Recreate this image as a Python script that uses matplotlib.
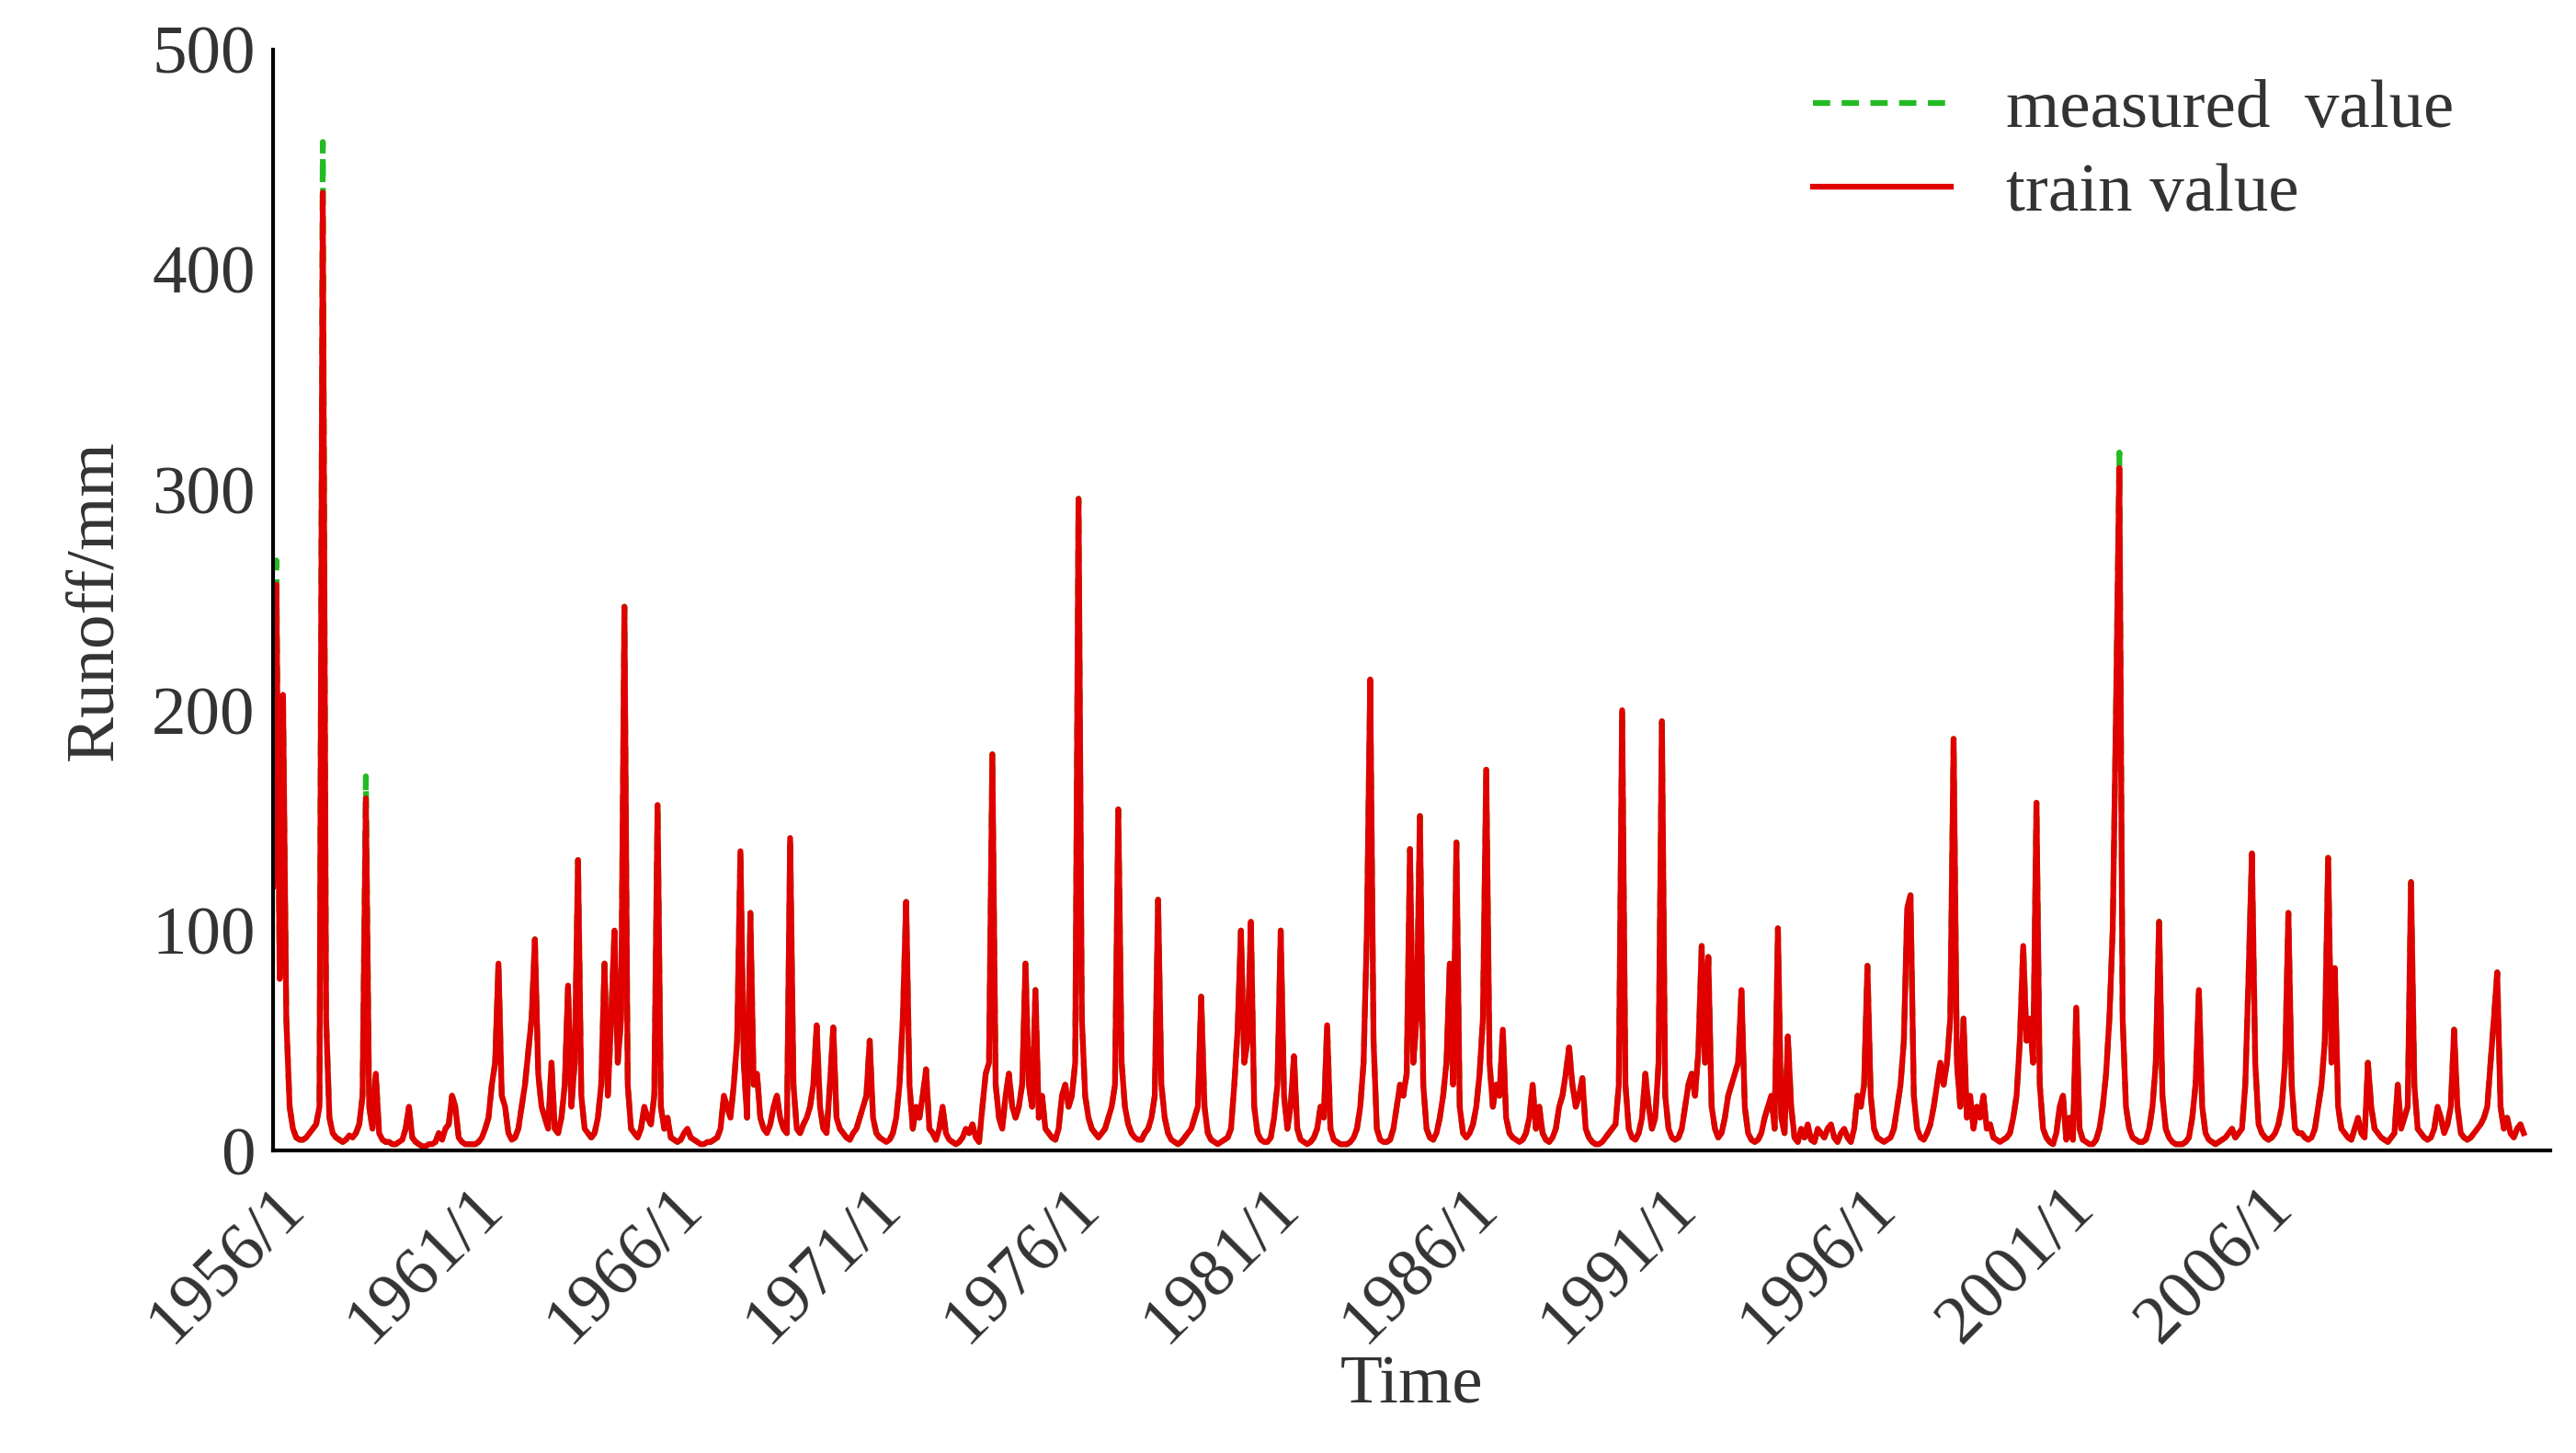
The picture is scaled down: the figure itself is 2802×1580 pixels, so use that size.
import matplotlib
matplotlib.use("Agg")
import matplotlib.pyplot as plt
import numpy as np

train_by_year = [
[120, 257, 78, 207, 60, 20, 10, 6, 5, 5, 6, 8],
[10, 12, 20, 435, 60, 15, 8, 6, 5, 4, 5, 7],
[6, 8, 12, 25, 160, 20, 10, 35, 8, 5, 4, 4],
[3, 3, 4, 5, 10, 20, 6, 4, 3, 2, 2, 3],
[3, 4, 8, 5, 10, 12, 25, 20, 6, 4, 3, 3],
[3, 3, 4, 6, 10, 15, 30, 40, 85, 25, 20, 8],
[5, 6, 10, 20, 30, 45, 60, 96, 35, 20, 15, 10],
[40, 10, 8, 15, 30, 75, 20, 40, 132, 25, 10, 8],
[6, 8, 15, 30, 85, 25, 60, 100, 40, 60, 247, 30],
[10, 8, 6, 10, 20, 15, 12, 25, 157, 20, 10, 15],
[6, 5, 4, 5, 8, 10, 6, 5, 4, 3, 3, 4],
[4, 5, 6, 10, 25, 20, 15, 30, 50, 136, 40, 15],
[108, 30, 35, 15, 10, 8, 12, 20, 25, 15, 10, 8],
[142, 30, 10, 8, 12, 15, 20, 30, 57, 20, 10, 8],
[30, 56, 15, 10, 8, 6, 5, 8, 10, 15, 20, 25],
[50, 15, 8, 6, 5, 4, 5, 8, 15, 30, 60, 113],
[30, 10, 20, 15, 25, 37, 10, 8, 5, 10, 20, 8],
[5, 4, 3, 4, 6, 10, 8, 12, 6, 4, 20, 35],
[40, 180, 30, 15, 10, 25, 35, 20, 15, 20, 30, 85],
[30, 20, 73, 15, 25, 10, 8, 6, 5, 10, 25, 30],
[20, 25, 40, 296, 60, 25, 15, 10, 8, 6, 8, 10],
[15, 20, 30, 155, 40, 20, 12, 8, 6, 5, 5, 8],
[10, 15, 25, 114, 30, 15, 8, 5, 4, 3, 4, 6],
[8, 10, 15, 20, 70, 20, 8, 5, 4, 3, 4, 5],
[6, 10, 30, 55, 100, 40, 50, 104, 20, 8, 5, 4],
[4, 6, 15, 30, 100, 25, 10, 20, 43, 10, 5, 4],
[3, 4, 6, 10, 20, 15, 57, 10, 5, 4, 3, 3],
[3, 4, 6, 10, 20, 40, 100, 214, 50, 10, 5, 4],
[4, 5, 10, 20, 30, 25, 35, 137, 40, 60, 152, 30],
[10, 6, 5, 8, 15, 25, 40, 85, 30, 140, 20, 8],
[6, 8, 12, 20, 35, 60, 173, 40, 20, 30, 25, 55],
[15, 8, 6, 5, 4, 5, 8, 15, 30, 10, 20, 8],
[5, 4, 6, 10, 20, 25, 35, 47, 30, 20, 25, 33],
[10, 6, 4, 3, 3, 4, 6, 8, 10, 12, 30, 200],
[30, 10, 6, 5, 8, 15, 35, 20, 10, 15, 40, 195],
[25, 10, 6, 5, 6, 10, 20, 30, 35, 25, 45, 93],
[40, 88, 20, 10, 6, 8, 15, 25, 30, 35, 40, 73],
[20, 8, 5, 4, 5, 8, 15, 20, 25, 10, 101, 15],
[8, 52, 20, 6, 4, 10, 6, 12, 5, 4, 10, 8],
[6, 10, 12, 6, 4, 8, 10, 6, 4, 10, 25, 20],
[30, 84, 25, 10, 6, 5, 4, 5, 6, 10, 20, 30],
[50, 110, 116, 25, 10, 6, 5, 8, 12, 20, 30, 40],
[30, 40, 60, 187, 40, 20, 60, 15, 25, 10, 20, 15],
[25, 10, 12, 6, 5, 4, 5, 6, 8, 15, 25, 50],
[93, 50, 60, 40, 158, 30, 10, 6, 4, 3, 8, 20],
[25, 5, 15, 5, 65, 10, 5, 4, 3, 3, 5, 10],
[20, 35, 60, 100, 200, 310, 60, 20, 10, 6, 5, 4],
[4, 5, 10, 20, 40, 104, 25, 10, 6, 4, 3, 3],
[3, 4, 6, 15, 30, 73, 20, 8, 5, 4, 3, 4],
[5, 6, 8, 10, 6, 8, 10, 30, 80, 135, 40, 12],
[8, 6, 5, 6, 8, 12, 20, 40, 108, 30, 10, 8],
[8, 6, 5, 6, 10, 20, 30, 50, 133, 40, 83, 20],
[10, 8, 6, 5, 10, 15, 8, 6, 40, 20, 10, 8],
[6, 5, 4, 6, 8, 30, 10, 15, 20, 122, 30, 10],
[8, 6, 5, 6, 10, 20, 15, 8, 12, 20, 55, 20],
[8, 6, 5, 6, 8, 10, 12, 15, 20, 40, 60, 81],
[20, 10, 15, 8, 6, 10, 12, 8],
]
# measured values differ from train only at these months (index: value)
measured_diff = {1: 268, 15: 458, 28: 170, 116: 158, 557: 317}
tick_labels = ["1956/1", "1961/1", "1966/1", "1971/1", "1976/1", "1981/1",
               "1986/1", "1991/1", "1996/1", "2001/1", "2006/1"]

train = np.array([v for row in train_by_year for v in row], dtype=float)
measured = train.copy()
for k, v in measured_diff.items():
    measured[k] = v
x = np.arange(len(train))

plt.rcParams['font.family'] = ['Liberation Serif', 'DejaVu Serif']
fig = plt.figure(figsize=(28.02, 15.80), dpi=100)
ax = fig.add_axes([0.106, 0.208, 0.884, 0.758])
ax.plot(x, measured, color='#22bb22', lw=4.5, ls=(0, (3, 2)), label='measured  value')
ax.plot(x, train, color='#e00000', lw=4.5, label='train value')
ax.set_xlim(0, 687)
ax.set_ylim(0, 500)
ax.set_yticks([0, 100, 200, 300, 400, 500])
ax.set_xticks(np.arange(len(tick_labels)) * 60)
ax.set_xticklabels(tick_labels, rotation=45, ha='right', va='top', rotation_mode='anchor')
ax.tick_params(axis='both', labelsize=54, length=0, pad=14, colors='#333333')
ax.tick_params(axis='x', pad=20)
for s in ['top', 'right']:
    ax.spines[s].set_visible(False)
for s in ['left', 'bottom']:
    ax.spines[s].set_linewidth(3)
    ax.spines[s].set_color('black')
ax.set_ylabel('Runoff/mm', fontsize=54, color='#333333', labelpad=20)
ax.set_xlabel('Time', fontsize=54, color='#333333', labelpad=0)
ax.legend(loc='upper right', fontsize=54, frameon=False, handlelength=2.0,
          bbox_to_anchor=(0.985, 1.03), labelcolor='#333333', labelspacing=0.3)
fig.savefig('out.png', dpi=100)
